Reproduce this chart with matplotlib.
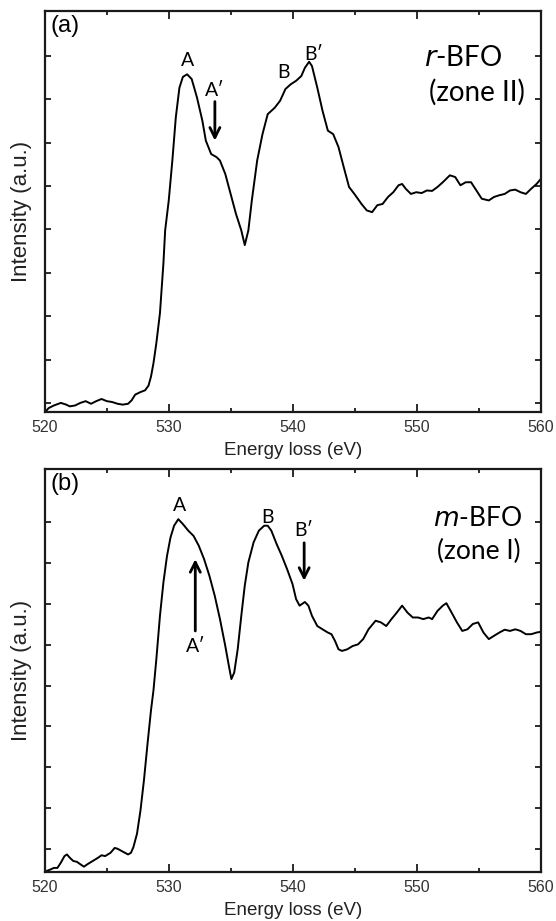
"""
plot.py: O K-edge EELS spectra of r-BFO (zone II) and m-BFO (zone I).
Writes out.png at 556x921 px.
"""
import matplotlib
matplotlib.use("Agg")
import matplotlib.pyplot as plt

INK = "#1a1a1a"
LABEL_FONT = ["Lato", "DejaVu Sans"]

# --- (a) r-BFO, zone II: energy loss (eV) and intensity (tick units) ---------
ev_a = [520.05, 520.29, 520.71, 521.28, 521.71, 522.0, 522.42, 522.85, 523.28,
        523.71, 524.13, 524.56, 524.99, 525.42, 525.85, 526.27, 526.70, 526.99,
        527.27, 527.70, 528.07, 528.35, 528.55, 528.75, 528.98, 529.27, 529.55,
        529.69, 529.98, 530.27, 530.55, 530.84, 531.12, 531.46, 531.83, 532.26,
        532.69, 532.97, 533.40, 533.83, 534.11, 534.54, 534.97, 535.40, 535.83,
        536.11, 536.40, 536.68, 537.11, 537.54, 537.96, 538.53, 538.96, 539.39,
        539.82, 540.25, 540.67, 540.96, 541.30, 541.53, 541.96, 542.38, 542.81,
        543.24, 543.67, 544.09, 544.52, 544.95, 545.52, 545.95, 546.38, 546.80,
        547.23, 547.66, 548.09, 548.51, 548.80, 549.09, 549.51, 549.94, 550.37,
        550.80, 551.22, 551.65, 552.08, 552.65, 553.08, 553.50, 553.93, 554.36,
        554.79, 555.22, 555.79, 556.21, 556.64, 557.07, 557.50, 557.92, 558.35,
        558.78, 559.21, 559.64, 560.0]
int_a = [-0.20, -0.12, -0.06, 0.00, -0.04, -0.08, -0.06, 0.00, 0.04,
         -0.02, 0.04, 0.09, 0.04, 0.02, -0.02, -0.04, -0.02, 0.06,
         0.19, 0.25, 0.29, 0.40, 0.61, 0.92, 1.38, 2.07, 3.22,
         3.98, 4.67, 5.59, 6.59, 7.27, 7.52, 7.58, 7.47, 7.04,
         6.51, 6.05, 5.74, 5.67, 5.59, 5.28, 4.82, 4.36, 3.98,
         3.64, 3.98, 4.67, 5.59, 6.20, 6.66, 6.81, 6.97, 7.24,
         7.35, 7.43, 7.54, 7.73, 7.87, 7.77, 7.27, 6.74, 6.28,
         6.20, 5.90, 5.44, 4.98, 4.82, 4.59, 4.44, 4.40, 4.56,
         4.59, 4.75, 4.86, 5.02, 5.05, 4.94, 4.82, 4.86, 4.84,
         4.90, 4.89, 4.98, 5.09, 5.25, 5.21, 5.02, 5.09, 5.09,
         4.90, 4.71, 4.67, 4.75, 4.79, 4.82, 4.90, 4.92, 4.86,
         4.82, 4.94, 5.05, 5.17]

# --- (b) m-BFO, zone I ------------------------------------------------------
ev_b = [520.09, 520.43, 520.71, 521.0, 521.28, 521.57, 521.77, 522.0, 522.28,
        522.57, 522.85, 523.14, 523.42, 523.85, 524.28, 524.56, 524.85, 525.28,
        525.62, 525.85, 526.27, 526.70, 526.93, 527.13, 527.42, 527.70, 527.98,
        528.27, 528.55, 528.75, 528.98, 529.27, 529.55, 529.84, 530.12, 530.41,
        530.75, 531.12, 531.55, 531.98, 532.40, 532.83, 533.26, 533.69, 534.11,
        534.54, 534.83, 535.03, 535.26, 535.54, 535.83, 536.11, 536.40, 536.82,
        537.25, 537.68, 537.96, 538.25, 538.68, 539.10, 539.53, 539.96, 540.25,
        540.53, 540.96, 541.24, 541.53, 541.96, 542.38, 542.81, 543.10, 543.38,
        543.67, 543.95, 544.38, 544.81, 545.24, 545.66, 546.09, 546.66, 547.09,
        547.52, 547.94, 548.37, 548.80, 549.23, 549.66, 550.08, 550.51, 550.94,
        551.22, 551.65, 552.08, 552.37, 552.79, 553.22, 553.65, 554.07, 554.50,
        554.93, 555.36, 555.79, 556.21, 556.64, 557.07, 557.50, 557.93, 558.35,
        558.78, 559.21, 559.64, 560.0]
int_b = [-0.55, -0.51, -0.47, -0.47, -0.34, -0.18, -0.14, -0.22, -0.30,
         -0.32, -0.38, -0.44, -0.38, -0.30, -0.22, -0.16, -0.18, -0.10,
         0.02, 0.00, -0.07, -0.14, -0.10, 0.04, 0.37, 0.94, 1.68,
         2.58, 3.40, 3.89, 4.65, 5.71, 6.53, 7.18, 7.63, 7.92,
         8.08, 7.96, 7.80, 7.67, 7.43, 7.10, 6.69, 6.20, 5.63,
         4.97, 4.48, 4.16, 4.32, 4.89, 5.71, 6.45, 7.02, 7.51,
         7.80, 7.92, 7.92, 7.80, 7.47, 7.18, 6.85, 6.49, 6.12,
         5.96, 6.05, 5.96, 5.71, 5.46, 5.38, 5.30, 5.26, 5.10,
         4.89, 4.85, 4.89, 4.97, 5.01, 5.14, 5.38, 5.59, 5.55,
         5.46, 5.63, 5.79, 5.96, 5.79, 5.67, 5.67, 5.63, 5.67,
         5.63, 5.83, 5.96, 6.02, 5.79, 5.55, 5.34, 5.38, 5.51,
         5.55, 5.30, 5.14, 5.22, 5.30, 5.37, 5.34, 5.38, 5.34,
         5.26, 5.26, 5.30, 5.32]

# peak labels: (text, energy, intensity)
peaks_a = [("A", 531.5, 7.89), ("B", 539.25, 7.62), ("B\u2032", 541.67, 8.04)]
peaks_b = [("A", 530.84, 8.41), ("B", 537.96, 8.12)]


def style_axes(ax, ylim):
    ax.set_xlim(520, 560)
    ax.set_ylim(*ylim)
    ax.set_xticks(range(520, 561, 10))
    ax.set_xticks(range(525, 560, 10), minor=True)
    ax.set_yticks(range(9))
    ax.set_yticklabels([])
    ax.tick_params(which="both", direction="in", top=True, right=True,
                   width=1.3, color=INK, labelsize=11.5,
                   labelcolor="#333333", pad=6)
    ax.tick_params(axis="x", which="major", length=6)
    ax.tick_params(axis="x", which="minor", length=3)
    ax.tick_params(axis="y", length=4.5)
    for s in ax.spines.values():
        s.set_linewidth(1.6)
        s.set_color(INK)
    for lab in ax.get_xticklabels():
        lab.set_family("Liberation Sans")
    ax.set_xlabel("Energy loss (eV)", fontsize=13.5, family="Liberation Sans",
                  color="#222222", labelpad=5)
    ax.set_ylabel("Intensity (a.u.)", fontsize=16, family="Liberation Sans",
                  color="#222222", labelpad=3)


def arrow(ax, x, y0, y1):
    ax.annotate("", xy=(x, y1), xytext=(x, y0),
                arrowprops=dict(arrowstyle="->", lw=2.0, color="black",
                                mutation_scale=18, shrinkA=0, shrinkB=0))


fig = plt.figure(figsize=(5.56, 9.21), dpi=100)
ax_a = fig.add_axes([45 / 556, 1 - 412 / 921, 496 / 556, 401 / 921])
ax_b = fig.add_axes([45 / 556, 1 - 872 / 921, 496 / 556, 403 / 921])

# (a)
ax_a.plot(ev_a, int_a, color="black", lw=1.4)
style_axes(ax_a, (-0.21, 9.04))
ax_a.text(521.6, 8.69, "(a)", fontsize=17, family="Liberation Sans",
          ha="center", va="center")
for t, x, y in peaks_a:
    ax_a.text(x, y, t, fontsize=14, family=LABEL_FONT, ha="center", va="center")
ax_a.text(533.7, 7.2, "A\u2032", fontsize=14, family=LABEL_FONT,
          ha="center", va="center")
arrow(ax_a, 533.7, 6.95, 6.05)
ax_a.text(553.7, 7.96, "$\\it{r}$-BFO", fontsize=20, family=LABEL_FONT,
          ha="center", va="center")
ax_a.text(554.8, 7.16, "(zone II)", fontsize=20, family=LABEL_FONT,
          ha="center", va="center")

# (b)
ax_b.plot(ev_b, int_b, color="black", lw=1.4)
style_axes(ax_b, (-0.57, 9.31))
ax_b.text(521.65, 8.94, "(b)", fontsize=17, family="Liberation Sans",
          ha="center", va="center")
for t, x, y in peaks_b:
    ax_b.text(x, y, t, fontsize=14, family=LABEL_FONT, ha="center", va="center")
ax_b.text(540.9, 7.8, "B\u2032", fontsize=14, family=LABEL_FONT,
          ha="center", va="center")
arrow(ax_b, 540.9, 7.5, 6.57)
ax_b.text(532.12, 4.97, "A\u2032", fontsize=14, family=LABEL_FONT,
          ha="center", va="center")
arrow(ax_b, 532.12, 5.34, 7.10)
ax_b.text(554.9, 8.1, "$\\it{m}$-BFO", fontsize=19, family=LABEL_FONT,
          ha="center", va="center")
ax_b.text(554.95, 7.3, "(zone I)", fontsize=19, family=LABEL_FONT,
          ha="center", va="center")

fig.savefig("out.png", dpi=100)
